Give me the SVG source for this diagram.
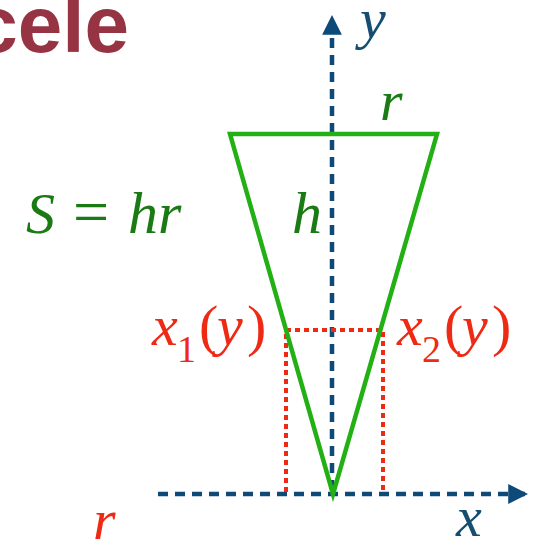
<svg xmlns="http://www.w3.org/2000/svg" width="539" height="539" viewBox="0 0 539 539">
<style>
.m{font-family:"Liberation Serif","Times New Roman",serif;font-size:58px}
.i{font-style:italic}
.g{fill:#1a7a14}
.r{fill:#ee2a14}
.b{fill:#154e70}
.axis{stroke:#0d4a78;stroke-width:4.5;stroke-dasharray:10,7;fill:none}
.dot{stroke:#ee2a14;stroke-width:4;stroke-dasharray:5,4;fill:none}
</style>
<defs>
<marker id="ah" viewBox="0 0 10 10" refX="10" refY="5" markerWidth="4.6" markerHeight="4.4" markerUnits="strokeWidth" orient="auto">
<path d="M0,0 L10,5 L0,10 z" fill="#0d4a78"/>
</marker>
</defs>
<text x="129" y="52" text-anchor="end" style="font-family:'Liberation Sans',Arial,sans-serif;font-weight:bold;font-size:80px;fill:#963443">cele</text>
<g id="connectors">
<line class="axis" x1="158" y1="494" x2="528" y2="494" marker-end="url(#ah)"/>
<line class="axis" x1="332" y1="490" x2="332" y2="15" marker-end="url(#ah)"/>
</g>
<g id="rect">
<path class="dot" d="M286,492 V330 H383 V492"/>
</g>
<g id="triangle">
<path d="M230,134 H437 L333,494 Z" fill="none" stroke="#22b014" stroke-width="4.5"/>
</g>
<g id="labels">
<text class="m i b" x="360" y="38">y</text>
<text class="m i g" x="380" y="120">r</text>
<text class="m g" y="233"><tspan class="i" x="26">S</tspan><tspan x="73" style="font-size:64px">=</tspan><tspan class="i" x="128" style="font-size:60px">hr</tspan></text>
<text class="m i g" x="292" y="233" style="font-size:60px">h</text>
<text class="m r" y="345"><tspan class="i" x="152">x</tspan><tspan x="177" y="362" style="font-size:38px">1</tspan><tspan x="199" y="345">(</tspan><tspan class="i" x="217">y</tspan><tspan x="247">)</tspan></text>
<text class="m r" y="345"><tspan class="i" x="397">x</tspan><tspan x="422" y="362" style="font-size:38px">2</tspan><tspan x="444" y="345">(</tspan><tspan class="i" x="462">y</tspan><tspan x="492">)</tspan></text>
<text class="m i b" x="456" y="536">x</text>
<text class="m i r" x="93" y="539">r</text>
</g>
</svg>
